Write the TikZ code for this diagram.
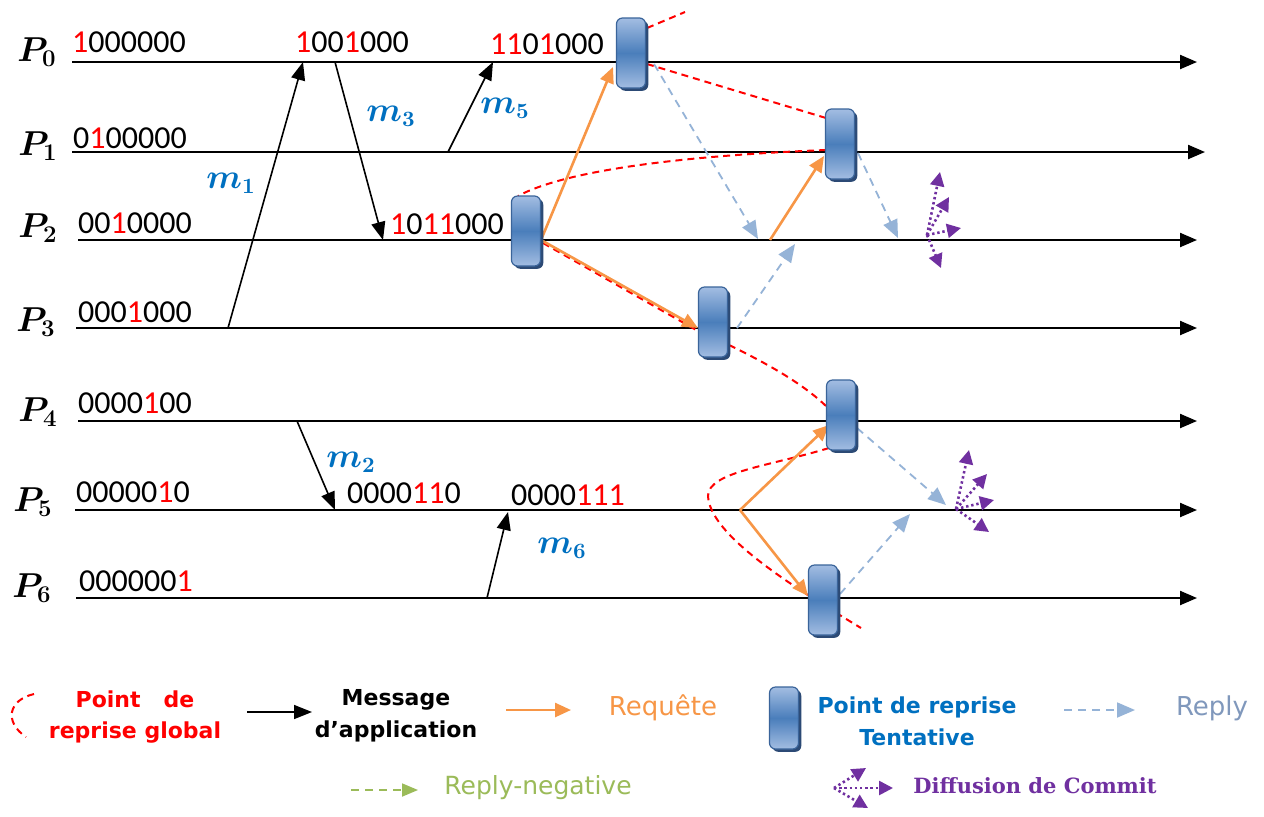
\documentclass[tikz,border=0pt]{standalone}
\usepackage{fontspec}
\setmainfont{Carlito}
\newfontfamily\legsans{DejaVu Sans}
\newfontfamily\legserif{DejaVu Serif}
\usetikzlibrary{arrows.meta,shadows}
\definecolor{reqorange}{HTML}{F79646}
\definecolor{replyblue}{HTML}{95B3D7}
\definecolor{replytext}{HTML}{8098BC}
\definecolor{mblue}{HTML}{0070C0}
\definecolor{ckdark}{HTML}{4A7EBB}
\definecolor{cklight}{HTML}{A3BDE2}
\definecolor{ckedge}{HTML}{3A649A}
\definecolor{ckshadow}{HTML}{2C4A75}
\definecolor{commitpurple}{HTML}{7030A0}
\definecolor{neggreen}{HTML}{9BBB59}
\newcommand\rd[1]{\textcolor{red}{#1}}
\begin{document}
\begin{tikzpicture}[x=0.5pt,y=-0.5pt,
  timeline/.style={line width=1.1pt,-{Triangle[length=8.5pt,width=7pt]}},
  proc/.style={font=\fontsize{17}{19}\selectfont\boldmath, inner sep=0pt},
  vc/.style={font=\fontsize{16}{18}\selectfont, inner sep=0pt},
  msg/.style={line width=0.8pt,-{Triangle[length=9pt,width=7pt]}},
  mlab/.style={text=mblue, font=\fontsize{16}{18}\selectfont\boldmath, inner sep=0pt},
  ckpt/.style={rounded corners=3pt, minimum width=14.5pt, minimum height=35pt,
    inner sep=0pt, draw=ckedge, line width=0.6pt,
    top color=cklight, bottom color=cklight, middle color=ckdark,
    drop shadow={shadow xshift=1.4pt, shadow yshift=-1.4pt, fill=ckshadow, opacity=1}},
  req/.style={color=reqorange, line width=1.3pt, -{Triangle[length=8pt,width=7pt]}},
  reply/.style={color=replyblue, line width=0.9pt, dash pattern=on 4pt off 3pt,
    -{Triangle[length=9pt,width=7.5pt]}},
  replyneg/.style={color=neggreen, line width=0.9pt, dash pattern=on 4pt off 3pt,
    -{Triangle[length=8pt,width=6.5pt]}},
  gcp/.style={red, line width=1pt, dash pattern=on 3.5pt off 2.5pt},
  commit/.style={color=commitpurple, line width=1.3pt, dash pattern=on 1.2pt off 1.4pt,
    -{Triangle[length=7pt,width=7pt]}},
  leg/.style={font=\legsans\bfseries\fontsize{11}{16}\selectfont, align=center, inner sep=0pt},
]
\useasboundingbox (0,0) rectangle (1264,816);
\fill[white] (0,0) rectangle (1264,816);

% process time lines
\foreach \i/\y/\xs/\xe in {0/62/72/1197, 1/152/72/1205, 2/240/78/1197,
    3/328/76/1197, 4/421/78/1197, 5/510/75/1197, 6/598/76/1197}{
  \coordinate (s\i) at (\xs,\y);
  \coordinate (e\i) at (\xe,\y);
  \draw[timeline] (s\i) -- (e\i);
}

% process names
\node[proc] (P0) at (37,52) {$P_0$};
\node[proc] (P1) at (38,146) {$P_1$};
\node[proc] (P2) at (38,228) {$P_2$};
\node[proc] (P3) at (36,322) {$P_3$};
\node[proc] (P4) at (38,412) {$P_4$};
\node[proc] (P5) at (33,502) {$P_5$};
\node[proc] (P6) at (32,588) {$P_6$};

% dependency vectors
\node[vc] (v0a) at (129,42) {\rd{1}000000};
\node[vc] (v0b) at (352,42) {\rd{1}00\rd{1}000};
\node[vc] (v0c) at (547,44) {\rd{11}0\rd{1}000};
\node[vc] (v1a) at (130,138) {0\rd{1}00000};
\node[vc] (v2a) at (135,223) {00\rd{1}0000};
\node[vc] (v2b) at (447,224) {\rd{1}0\rd{11}000};
\node[vc] (v3a) at (135,312) {000\rd{1}000};
\node[vc] (v4a) at (135,403) {0000\rd{1}00};
\node[vc] (v5a) at (133,492) {00000\rd{1}0};
\node[vc] (v5b) at (404,493) {0000\rd{11}0};
\node[vc] (v5c) at (568,495) {0000\rd{111}};
\node[vc] (v6a) at (136,581) {000000\rd{1}};

% application messages
\coordinate (m1s) at (228,328); \coordinate (m1e) at (303,62);
\coordinate (m3s) at (335,62);  \coordinate (m3e) at (383,240);
\coordinate (m5s) at (448,152); \coordinate (m5e) at (493,62);
\coordinate (m2s) at (297,421); \coordinate (m2e) at (335,510);
\coordinate (m6s) at (487,598); \coordinate (m6e) at (508,512);
\draw[msg] (m1s) -- (m1e);
\draw[msg] (m3s) -- (m3e);
\draw[msg] (m5s) -- (m5e);
\draw[msg] (m2s) -- (m2e);
\draw[msg] (m6s) -- (m6e);
\node[mlab] (lm1) at (231,183) {$m_1$};
\node[mlab] (lm3) at (391,116) {$m_3$};
\node[mlab] (lm5) at (505,108) {$m_5$};
\node[mlab] (lm2) at (351,462) {$m_2$};
\node[mlab] (lm6) at (562,548) {$m_6$};

% global checkpoint line
\coordinate (g0) at (647,28);  \coordinate (g1) at (685,12);
\coordinate (g2) at (647,64);  \coordinate (g3) at (826,118);
\coordinate (g4) at (826,150); \coordinate (g5) at (518,196);
\coordinate (g6) at (543,243); \coordinate (g7) at (698,331);
\coordinate (g8) at (729,345); \coordinate (g9) at (828,408);
\coordinate (g10) at (829,448); \coordinate (g11) at (708,496);
\coordinate (g12) at (861,628);
\draw[gcp] (g0) -- (g1);
\draw[gcp] (g2) -- (g3);
\draw[gcp] (g4) .. controls (700,155) and (570,168) .. (g5);
\draw[gcp] (g6) -- (g7);
\draw[gcp] (g8) .. controls (770,365) and (805,385) .. (g9);
\draw[gcp] (g10) .. controls (770,466) and (708,472) .. (g11)
               .. controls (710,535) and (790,585) .. (g12);

% requests
\coordinate (q0) at (541,240);
\coordinate (q1) at (613,67);
\coordinate (q2) at (698,328);
\coordinate (q3) at (770,240);
\coordinate (q4) at (824,156);
\coordinate (q5) at (740,510);
\coordinate (q6) at (829,425);
\coordinate (q7) at (808,596);
\draw[req] (q0) -- (q1);
\draw[req] (q0) -- (q2);
\draw[req] (q3) -- (q4);
\draw[req] (q5) -- (q6);
\draw[req] (q5) -- (q7);

% replies
\coordinate (a0) at (654,64);  \coordinate (a1) at (758,239);
\coordinate (a2) at (737,328); \coordinate (a3) at (795,244);
\coordinate (a4) at (858,153); \coordinate (a5) at (898,238);
\coordinate (a6) at (857,428); \coordinate (a7) at (946,505);
\coordinate (a8) at (840,594); \coordinate (a9) at (910,514);
\draw[reply] (a0) -- (a1);
\draw[reply] (a2) -- (a3);
\draw[reply] (a4) -- (a5);
\draw[reply] (a6) -- (a7);
\draw[reply] (a8) -- (a9);

% commit broadcasts
\coordinate (b1) at (927,235);
\foreach \n/\x/\y in {a/940/172, b/949/197, c/961/228, d/941/268}{
  \coordinate (b1\n) at (\x,\y);
  \draw[commit] (b1) -- (b1\n);
}
\coordinate (b2) at (956,509);
\foreach \n/\x/\y in {a/969/450, b/987/474, c/994/500, d/989/532}{
  \coordinate (b2\n) at (\x,\y);
  \draw[commit] (b2) -- (b2\n);
}

% tentative checkpoints
\node[ckpt] (c0) at (631,53) {};
\node[ckpt] (c1) at (840,144) {};
\node[ckpt] (c2) at (526,231) {};
\node[ckpt] (c3) at (713,322) {};
\node[ckpt] (c4) at (841,415) {};
\node[ckpt] (c6) at (823,600) {};

% legend
\coordinate (k0) at (34,694); \coordinate (k1) at (26,737);
\draw[gcp] (k0) .. controls (8,700) and (4,722) .. (k1);
\node[leg, text=red] (lk) at (135,717) {Point\ \ \ de\\reprise global};

\coordinate (k2) at (247,712); \coordinate (k3) at (312,712);
\draw[msg] (k2) -- (k3);
\node[leg] (lmsg) at (396,716) {Message\\d’application};

\coordinate (k4) at (506,710); \coordinate (k5) at (571,710);
\draw[req] (k4) -- (k5);
\node[leg, text=reqorange, font=\legsans\fontsize{13}{16}\selectfont] (lreq) at (663,708) {Requête};

\node[ckpt, minimum height=31pt] (kc) at (784,718) {};
\node[leg, text=mblue] (lck) at (917,721) {Point de reprise\\Tentative};

\coordinate (k6) at (1064,710); \coordinate (k7) at (1135,710);
\draw[reply] (k6) -- (k7);
\node[leg, text=replytext, font=\legsans\fontsize{13}{16}\selectfont] (lrep) at (1212,708) {Reply};

\coordinate (k8) at (351,790); \coordinate (k9) at (418,790);
\draw[replyneg] (k8) -- (k9);
\node[leg, text=neggreen, font=\legsans\fontsize{12.5}{16}\selectfont] (lneg) at (538,788) {Reply-negative};

\coordinate (k10) at (834,788);
\foreach \n/\x/\y in {a/866/768, b/893/788, c/868/808}{
  \coordinate (k10\n) at (\x,\y);
  \draw[commit] (k10) -- (k10\n);
}
\node[leg, text=commitpurple, font=\legserif\bfseries\fontsize{10.5}{14}\selectfont] (lcom) at (1035,786) {Diffusion de Commit};
\end{tikzpicture}
\end{document}
